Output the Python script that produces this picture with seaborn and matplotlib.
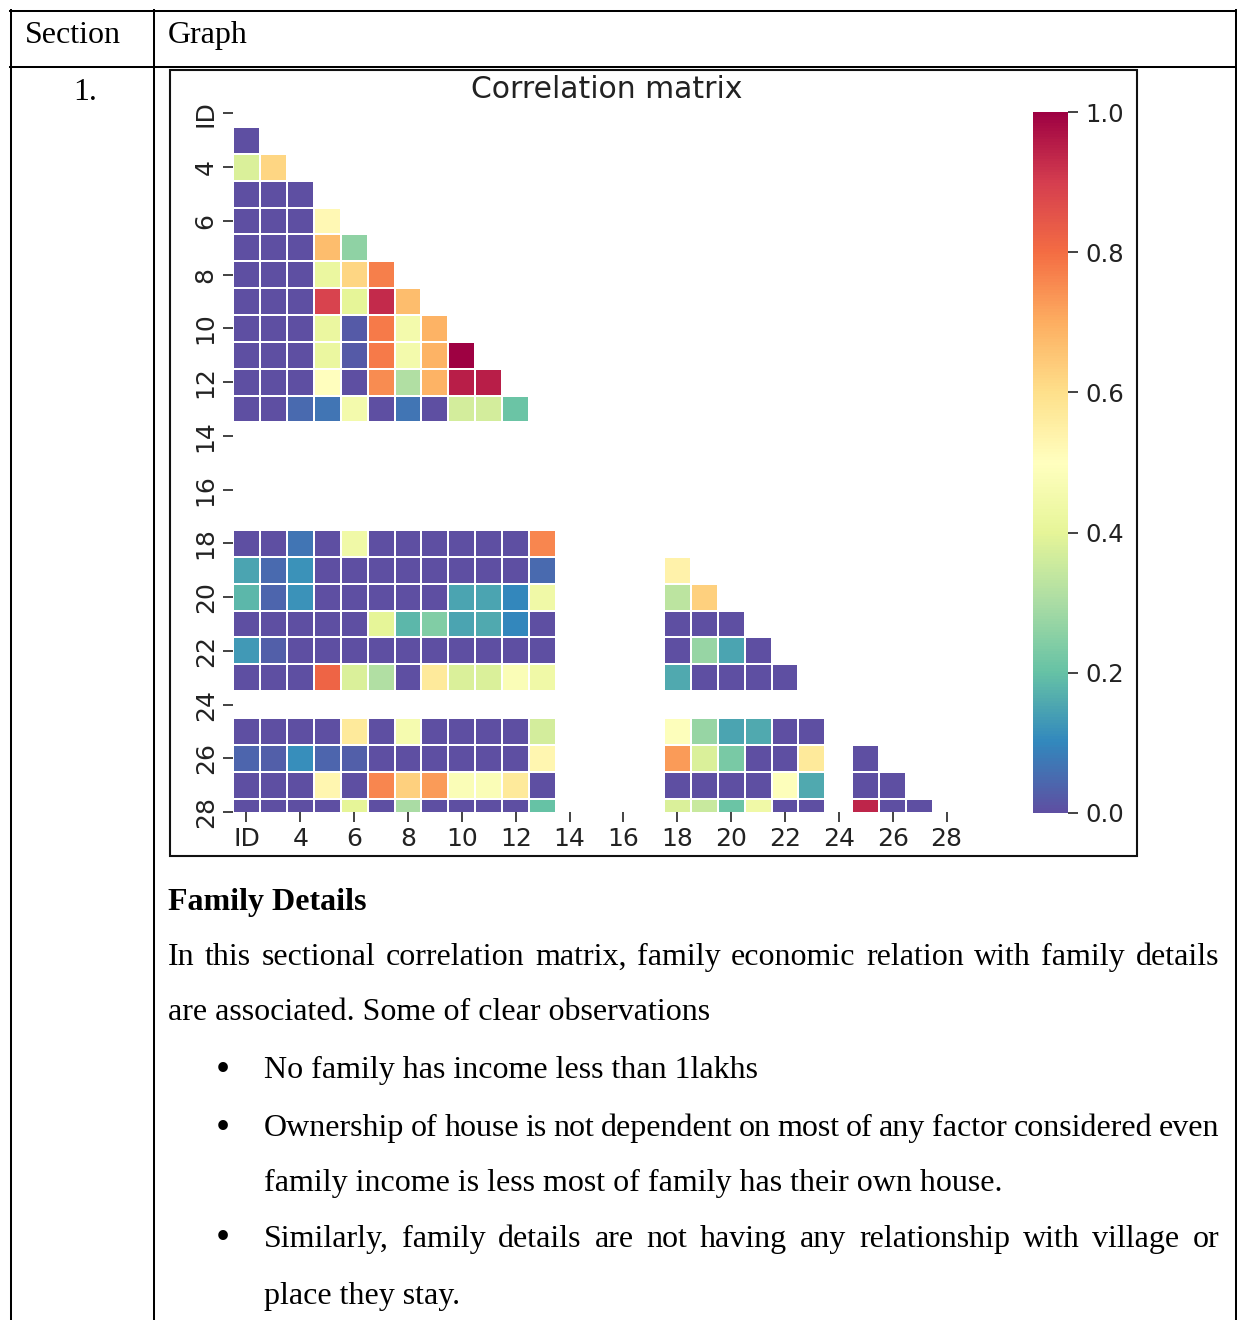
import numpy as np
import pandas as pd
import matplotlib
matplotlib.use("Agg")
import matplotlib.pyplot as plt
from matplotlib.lines import Line2D
from matplotlib.patches import Rectangle
import seaborn as sns

W, H = 1237, 1320
nan = np.nan

# ---------------- data ----------------
labels = ["ID", "3", "4", "5", "6", "7", "8", "9", "10", "11", "12", "13", "14",
          "15", "16", "17", "18", "19", "20", "21", "22", "23", "24", "25", "26",
          "27", "28"]

# lower-triangle rows (row k holds correlations with columns 0..k-1)
r3 = [0.0]
r4 = [0.38, 0.62]
r5 = [0.0, 0.0, 0.0]
r6 = [0.0, 0.0, 0.0, 0.52]
r7 = [0.0, 0.0, 0.0, 0.67, 0.26]
r8 = [0.0, 0.0, 0.0, 0.42, 0.62, 0.77]
r9 = [0.0, 0.0, 0.0, 0.89, 0.40, 0.93, 0.67]
r10 = [0.0, 0.0, 0.0, 0.42, 0.02, 0.78, 0.45, 0.69]
r11 = [0.0, 0.0, 0.0, 0.42, 0.02, 0.78, 0.45, 0.69, 1.0]
r12 = [0.0, 0.0, 0.0, 0.50, 0.0, 0.75, 0.31, 0.69, 0.95, 0.95]
r13 = [0.0, 0.0, 0.05, 0.07, 0.45, 0.0, 0.07, 0.0, 0.37, 0.37, 0.21]
r14 = [nan] * 12
r15 = [nan] * 13
r16 = [nan] * 14
r17 = [nan] * 15
r18 = [0.0, 0.0, 0.07, 0.0, 0.44, 0.0, 0.0, 0.0, 0.0, 0.0, 0.0, 0.76,
       nan, nan, nan, nan]
r19 = [0.15, 0.05, 0.12, 0.0, 0.0, 0.0, 0.0, 0.0, 0.0, 0.0, 0.0, 0.05,
       nan, nan, nan, nan, 0.54]
r20 = [0.18, 0.04, 0.12, 0.0, 0.0, 0.0, 0.0, 0.0, 0.15, 0.15, 0.10, 0.44,
       nan, nan, nan, nan, 0.33, 0.63]
r21 = [0.0, 0.0, 0.0, 0.0, 0.0, 0.40, 0.18, 0.24, 0.15, 0.16, 0.10, 0.0,
       nan, nan, nan, nan, 0.0, 0.0, 0.0]
r22 = [0.13, 0.03, 0.0, 0.0, 0.0, 0.0, 0.0, 0.0, 0.0, 0.0, 0.0, 0.0,
       nan, nan, nan, nan, 0.0, 0.27, 0.15, 0.0]
r23 = [0.0, 0.0, 0.0, 0.82, 0.38, 0.31, 0.0, 0.57, 0.38, 0.38, 0.48, 0.44,
       nan, nan, nan, nan, 0.16, 0.0, 0.0, 0.0, 0.0]
r24 = [nan] * 22
r25 = [0.0, 0.0, 0.0, 0.0, 0.57, 0.0, 0.46, 0.0, 0.0, 0.0, 0.0, 0.37,
       nan, nan, nan, nan, 0.49, 0.27, 0.15, 0.16, 0.0, 0.0, nan]
r26 = [0.04, 0.03, 0.11, 0.04, 0.03, 0.0, 0.0, 0.0, 0.0, 0.0, 0.0, 0.53,
       nan, nan, nan, nan, 0.73, 0.38, 0.23, 0.0, 0.0, 0.57, nan, 0.0]
r27 = [0.0, 0.0, 0.0, 0.53, 0.0, 0.76, 0.63, 0.73, 0.48, 0.48, 0.57, 0.0,
       nan, nan, nan, nan, 0.0, 0.0, 0.0, 0.0, 0.49, 0.16, nan, 0.0, 0.0]
r28 = [0.0, 0.0, 0.0, 0.0, 0.40, 0.0, 0.30, 0.0, 0.0, 0.0, 0.0, 0.20,
       nan, nan, nan, nan, 0.38, 0.35, 0.21, 0.44, 0.0, 0.0, nan, 0.94, 0.0, 0.0]

lower_rows = [r3, r4, r5, r6, r7, r8, r9, r10, r11, r12, r13, r14, r15, r16,
              r17, r18, r19, r20, r21, r22, r23, r24, r25, r26, r27, r28]

# ---------------- build matrix ----------------
n = len(labels)
mat = np.full((n, n), np.nan)
for i in range(n):
    mat[i, i] = 1.0
for k, row in enumerate(lower_rows, start=1):
    for j, v in enumerate(row):
        mat[k, j] = v
        mat[j, k] = v
corr = pd.DataFrame(mat, index=labels, columns=labels)
mask = np.triu(np.ones((n, n), dtype=bool))

# ---------------- figure ----------------
fig = plt.figure(figsize=(W / 100, H / 100), dpi=100)


def fx(x):
    return x / W


def fy(y):
    return 1 - y / H


ax_l, ax_r, ax_t, ax_b = 233, 960, 113.5, 812
ax = fig.add_axes([fx(ax_l), fy(ax_b), (ax_r - ax_l) / W, (ax_b - ax_t) / H])
cb_l, cb_r, cb_t, cb_b = 1033, 1068, 112, 813
cax = fig.add_axes([fx(cb_l), fy(cb_b), (cb_r - cb_l) / W, (cb_b - cb_t) / H])

sns.heatmap(corr, mask=mask, cmap="Spectral_r", vmin=0, vmax=1,
            linewidths=1.2, linecolor="white", xticklabels=2, yticklabels=2,
            square=False, ax=ax, cbar_ax=cax)
ax.set_ylim(n - 0.5, 0.5)
ax.tick_params(axis="both", which="major", labelsize=18, length=7.5, width=1.2,
               bottom=True, left=True, color="#222222", labelcolor="#222222")
plt.setp(ax.get_yticklabels(), rotation=90, va="center")
plt.setp(ax.get_xticklabels(), rotation=0)
ax.set_title("Correlation matrix", fontsize=21.5, pad=11,
             x=(607 - ax_l) / (ax_r - ax_l), color="#222222")
cax.tick_params(labelsize=17.5, length=7.5, width=1.2, pad=5,
                color="#222222", labelcolor="#222222")
cax.set_yticks([0.0, 0.2, 0.4, 0.6, 0.8, 1.0])

# chart image frame
fig.add_artist(Rectangle((fx(170), fy(856)), (1137 - 170) / W, (856 - 70) / H,
                         transform=fig.transFigure, fill=False,
                         edgecolor="#111111", linewidth=1.5))

# ---------------- table lines ----------------
LW = 1.45


def hline(y, x0, x1):
    fig.add_artist(Line2D([fx(x0), fx(x1)], [fy(y), fy(y)],
                          transform=fig.transFigure, color="black", linewidth=LW))


def vline(x, y0, y1):
    fig.add_artist(Line2D([fx(x), fx(x)], [fy(y0), fy(y1)],
                          transform=fig.transFigure, color="black", linewidth=LW))


hline(11, 10, 1237)
hline(66.5, 10, 1237)
vline(11, 10, H)
vline(153.5, 10, H)
vline(1235.5, 10, H)

# ---------------- table text ----------------
SERIF = "Liberation Serif"
FS = 23

fig.text(fx(25), fy(43), "Section", fontsize=FS, family=SERIF, va="baseline")
fig.text(fx(168), fy(43), "Graph", fontsize=FS, family=SERIF, va="baseline")
fig.text(fx(85.5), fy(100), "1.", fontsize=FS, family=SERIF, va="baseline",
         ha="center")

fig.text(fx(168), fy(910), "Family Details", fontsize=FS, family=SERIF,
         weight="bold", va="baseline")

renderer = fig.canvas.get_renderer()


def justify(line, x0, x1, yb):
    words = line.split(" ")
    texts = [fig.text(0, fy(yb), w, fontsize=FS, family=SERIF, va="baseline")
             for w in words]
    widths = [t.get_window_extent(renderer).width for t in texts]
    gap = (x1 - x0 - sum(widths)) / (len(words) - 1)
    x = x0
    for t, w in zip(texts, widths):
        t.set_x(fx(x))
        x += w + gap


def plain(line, x0, yb):
    fig.text(fx(x0), fy(yb), line, fontsize=FS, family=SERIF, va="baseline")


def bullet(yb):
    fig.text(fx(223), fy(yb - 7), "\u2022", fontsize=FS + 6, family=SERIF,
             va="center", ha="center")


justify("In this sectional correlation matrix, family economic relation with family details",
        168, 1219, 965)
plain("are associated. Some of clear observations", 168, 1020)

bullet(1078)
plain("No family has income less than 1lakhs", 264, 1078)
bullet(1136)
justify("Ownership of house is not dependent on most of any factor considered even",
        264, 1219, 1136)
plain("family income is less most of family has their own house.", 264, 1191)
bullet(1247)
justify("Similarly, family details are not having any relationship with village or",
        264, 1219, 1247)
plain("place they stay.", 264, 1304)

fig.savefig("out.png", dpi=100, facecolor="white")
